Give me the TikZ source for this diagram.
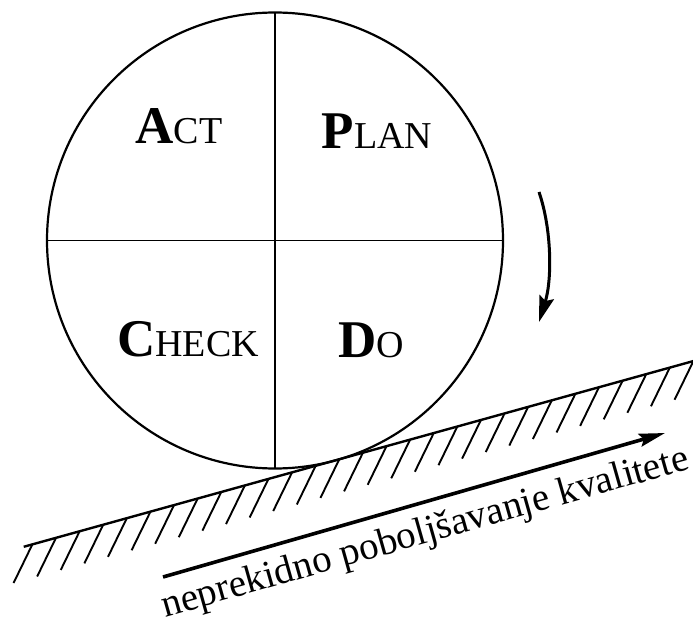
\documentclass[tikz,border=0pt]{standalone}
\usepackage{fontspec}
\setmainfont{Liberation Serif}
\usetikzlibrary{calc,arrows.meta}

% big bold initial, then small capitals
\newcommand{\pdcaword}[2]{{\fontsize{53}{53}\selectfont\bfseries #1}{\fontsize{38}{38}\selectfont #2}}

\begin{document}
\begin{tikzpicture}[x=1pt,y=1pt,
  wheel/.style={circle,draw,line width=2.2pt,minimum size=456pt,inner sep=0pt,outer sep=0pt},
  divider/.style={line width=1.5pt},
  phase/.style={anchor=base,inner sep=0pt},
  ground/.style={line width=2.4pt},
  hatch/.style={line width=1.9pt},
  progress/.style={line width=3.6pt,-{Stealth[length=26pt,width=13pt,inset=4pt]}},
  turn/.style={line width=3pt,-{Stealth[length=26pt,width=15pt,inset=4pt]}}]
  \useasboundingbox (0,0) rectangle (693,625);

  % Draw the wheel
  \node[wheel] (pdca) at (275,384.5) {};
  \draw[divider] (pdca.north) -- (pdca.south);
  \draw[divider] (pdca.west) -- (pdca.east);

  % Quadrant labels
  \node[phase] (act) at (179,481) {\pdcaword{A}{CT}};
  \node[phase] (plan) at (377,476) {\pdcaword{P}{LAN}};
  \node[phase] (check) at (188,269) {\pdcaword{C}{HECK}};
  \node[phase] (do) at (371,268) {\pdcaword{D}{O}};

  % Rotation arrow
  \coordinate (rs) at (539,433);
  \coordinate (re) at (539,303);
  \draw[turn] (rs) .. controls (552,395) and (552,345) .. (re);

  % Slope under the wheel
  \coordinate (touch) at ($(pdca.center)+(-74.5:228)$);
  \coordinate (gl) at ($(touch)+(195.5:324)$);
  \coordinate (gr) at ($(touch)+(15.5:385)$);
  \draw[ground] (gl) -- (gr);
  \foreach \s in {0,...,28}
    \draw[hatch] ($(gl)+(15.5:{9+\s*24.5})$) -- ++(244:43);

  % Improvement arrow and its text
  \coordinate (as) at (163,48);
  \coordinate (ae) at (665,192);
  \draw[progress] (as) -- (ae);
  \node[phase,rotate=15.8] (motto) at (428,82)
    {\fontsize{39}{39}\selectfont neprekidno poboljšavanje kvalitete};
\end{tikzpicture}
\end{document}
